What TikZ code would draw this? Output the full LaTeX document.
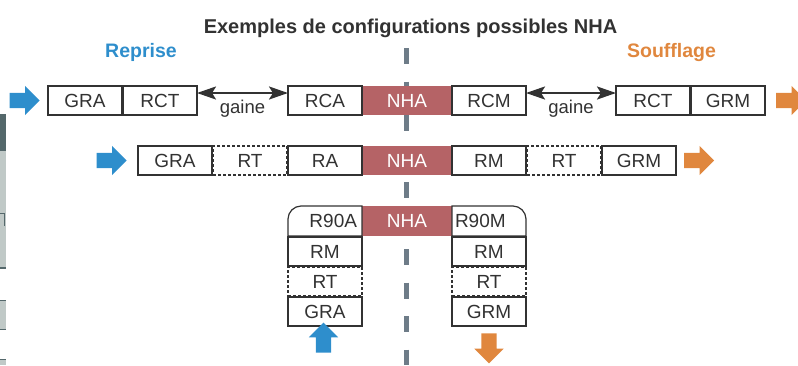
\documentclass[tikz,border=0pt]{standalone}
\usepackage{fontspec}
\setmainfont{Liberation Sans}
\usetikzlibrary{positioning,shapes.arrows,arrows.meta}
\definecolor{reprise}{RGB}{46,142,204}
\definecolor{soufflage}{RGB}{224,135,62}
\definecolor{nhared}{RGB}{181,99,102}
\definecolor{axisgray}{RGB}{110,124,136}
\definecolor{ink}{RGB}{50,50,50}
\definecolor{slate}{RGB}{84,104,107}
\definecolor{pale}{RGB}{192,201,199}
\begin{document}
\begin{tikzpicture}[x=1pt,y=-1pt,
    box/.style={draw=ink,line width=1.2pt,minimum width=74pt,minimum height=29pt,
      inner sep=0pt,outer sep=0pt,text=ink,font=\fontsize{19}{19}\selectfont},
    optbox/.style={box,dash pattern=on 3pt off 2pt},
    nha/.style={box,draw=none,fill=nhared,text=white,minimum width=90pt},
    elbowbox/.style={box,draw=none},
    inflow/.style={single arrow,draw=none,fill=reprise,minimum height=30pt,
      single arrow head extend=7pt,inner xsep=0pt,inner ysep=7.5pt},
    outflow/.style={inflow,fill=soufflage},
    gaine/.style={<->,>={Stealth[length=19pt,width=13pt,inset=4pt]},line width=2.4pt,draw=ink},
    side/.style={font=\bfseries\fontsize{19.5}{20}\selectfont,anchor=base}]
  \useasboundingbox (0,0) rectangle (798,365);
  % edge of the neighbouring figure
  \fill[slate] (0,114) rectangle (6,151);
  \fill[pale] (0,151) rectangle (6,267);
  \fill[slate] (0,267) rectangle (6,269);
  \draw[slate,line width=1pt] (0,213) -- (5,213) (4,213) -- (4,226);
  \fill[pale] (0,300) rectangle (6,329);
  \draw[slate,line width=1pt] (0,300) -- (6,300) (0,329) -- (6,329);
  \fill[pale] (0,359) rectangle (6,365);
  \draw[slate,line width=1pt] (0,359) -- (6,359);
  % separation
  \draw[axisgray,line width=5pt,dash pattern=on 16pt off 17.5pt] (406,48) -- (406,365);
  \node[side,text=ink,font=\bfseries\fontsize{20}{20}\selectfont] (title) at (410.5,33)
    {Exemples de configurations possibles NHA};
  \node[side,text=reprise] (rep) at (141,57) {Reprise};
  \node[side,text=soufflage] (souf) at (671.5,57) {Soufflage};
  % ligne 1
  \node[nha] (nha1) at (407,100.5) {NHA};
  \node[box,left=0pt of nha1] (rca1) {RCA};
  \node[box,right=0pt of nha1] (rcm1) {RCM};
  \node[box,left=91pt of rca1] (rct1) {RCT};
  \node[box,left=1pt of rct1] (gra1) {GRA};
  \node[box,right=90pt of rcm1] (rct2) {RCT};
  \node[box,right=1pt of rct2] (grm1) {GRM};
  \node[inflow,left=8pt of gra1] (in1) {};
  \node[outflow,right=11pt of grm1] (out1) {};
  \draw[gaine] ([yshift=7.5pt]rct1.east) -- node[below=6pt,inner sep=0pt,text=ink,
    font=\fontsize{18.5}{19}\selectfont] (g1) {gaine} ([yshift=7.5pt]rca1.west);
  \draw[gaine] ([yshift=7.5pt]rcm1.east) -- node[below=6pt,inner sep=0pt,text=ink,
    font=\fontsize{18.5}{19}\selectfont] (g2) {gaine} ([yshift=7.5pt]rct2.west);
  % ligne 2
  \node[nha] (nha2) at (407,160.5) {NHA};
  \node[box,left=0pt of nha2] (ra2) {RA};
  \node[optbox,left=1pt of ra2] (rt2) {RT};
  \node[box,left=1pt of rt2] (gra2) {GRA};
  \node[box,right=0pt of nha2] (rm2) {RM};
  \node[optbox,right=1pt of rm2] (rt3) {RT};
  \node[box,right=1pt of rt3] (grm2) {GRM};
  \node[inflow,left=11pt of gra2] (in2) {};
  \node[outflow,right=8pt of grm2] (out2) {};
  % ligne 3
  \node[nha,minimum height=30pt] (nha3) at (407,221) {NHA};
  \node[elbowbox,minimum height=30pt,left=0pt of nha3,text width=64pt,align=right,
    inner xsep=5pt] (r90a) {R90A};
  \node[elbowbox,minimum height=30pt,right=0pt of nha3,text width=68pt,align=left,
    inner xsep=3pt] (r90m) {R90M};
  \draw[ink,line width=1.2pt] (r90a.south west) -- ([yshift=-13pt]r90a.north west)
    .. controls ([yshift=-6pt]r90a.north west) and ([xshift=6pt]r90a.north west)
    .. ([xshift=13pt]r90a.north west)
    -- (r90a.north east) -- (r90a.south east) -- cycle;
  \draw[ink,line width=1.2pt] (r90m.south east) -- ([yshift=-13pt]r90m.north east)
    .. controls ([yshift=-6pt]r90m.north east) and ([xshift=-6pt]r90m.north east)
    .. ([xshift=-13pt]r90m.north east)
    -- (r90m.north west) -- (r90m.south west) -- cycle;
  \node[box,below=1pt of r90a] (rm3) {RM};
  \node[optbox,below=1pt of rm3] (rt4) {RT};
  \node[box,below=1pt of rt4] (gra3) {GRA};
  \node[box,below=1pt of r90m] (rm4) {RM};
  \node[optbox,below=1pt of rm4] (rt5) {RT};
  \node[box,below=1pt of rt5] (grm3) {GRM};
  \node[inflow,rotate=90] (in3) at ([xshift=-1.5pt,yshift=-15.5pt]gra3.south) {};
  \node[outflow,rotate=-90] (out3) at ([yshift=-18.5pt]grm3.south) {};
\end{tikzpicture}
\end{document}
